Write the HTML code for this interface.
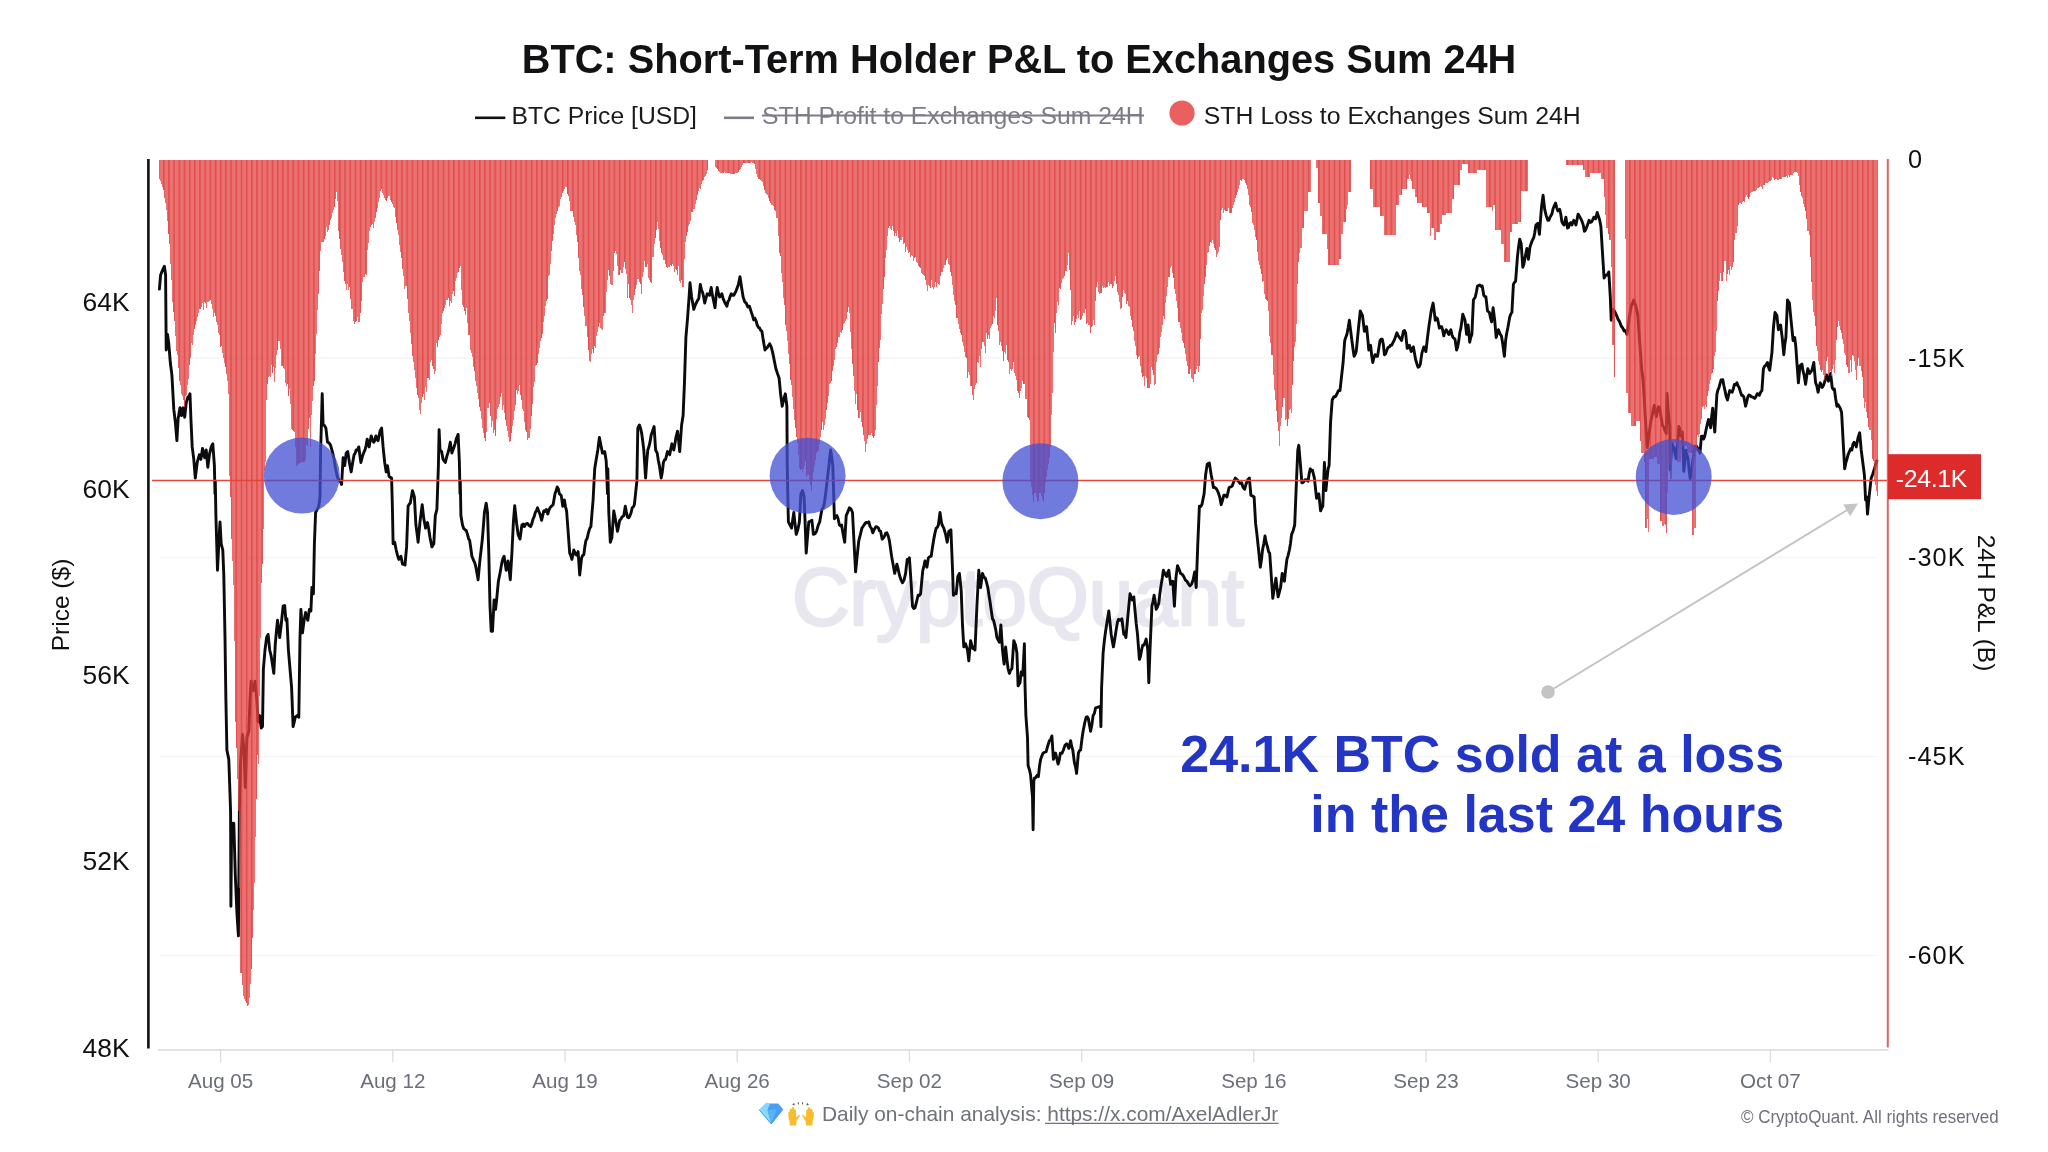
<!DOCTYPE html>
<html><head><meta charset="utf-8"><title>BTC: Short-Term Holder P&amp;L to Exchanges Sum 24H</title>
<style>html,body{margin:0;padding:0;background:#fff;width:2048px;height:1152px;overflow:hidden;font-family:"Liberation Sans",sans-serif}</style></head>
<body>
<svg width="2048" height="1152" viewBox="0 0 2048 1152" style="position:absolute;left:0;top:0;will-change:transform;font-family:'Liberation Sans',sans-serif">
<defs><pattern id="st" x="157.80" y="0" width="5.180" height="8" patternUnits="userSpaceOnUse"><rect x="0" y="0" width="5.180" height="8" fill="#e5403f" fill-opacity="0.74"/><rect x="0" y="0" width="1.5" height="8" fill="#d62f2f" fill-opacity="0.55"/></pattern></defs>
<line x1="160" x2="1878" y1="358" y2="358" stroke="#f5f5f5" stroke-width="1.3"/>
<line x1="160" x2="1878" y1="557.5" y2="557.5" stroke="#f5f5f5" stroke-width="1.3"/>
<line x1="160" x2="1878" y1="756.5" y2="756.5" stroke="#f5f5f5" stroke-width="1.3"/>
<line x1="160" x2="1878" y1="955.5" y2="955.5" stroke="#f5f5f5" stroke-width="1.3"/>
<text x="1018" y="625" text-anchor="middle" font-size="82" fill="#e8e7f0" stroke="#e8e7f0" stroke-width="2.6" stroke-linejoin="round" textLength="452" lengthAdjust="spacingAndGlyphs">CryptoQuant</text>
<line x1="158" x2="1888" y1="1050" y2="1050" stroke="#d9d9de" stroke-width="1.6"/>
<line x1="220.6" x2="220.6" y1="1050" y2="1062" stroke="#dcdce0" stroke-width="1.3"/>
<text x="220.6" y="1088" text-anchor="middle" font-size="20.6" fill="#6c6f78">Aug 05</text>
<line x1="392.8" x2="392.8" y1="1050" y2="1062" stroke="#dcdce0" stroke-width="1.3"/>
<text x="392.8" y="1088" text-anchor="middle" font-size="20.6" fill="#6c6f78">Aug 12</text>
<line x1="565.0" x2="565.0" y1="1050" y2="1062" stroke="#dcdce0" stroke-width="1.3"/>
<text x="565.0" y="1088" text-anchor="middle" font-size="20.6" fill="#6c6f78">Aug 19</text>
<line x1="737.2" x2="737.2" y1="1050" y2="1062" stroke="#dcdce0" stroke-width="1.3"/>
<text x="737.2" y="1088" text-anchor="middle" font-size="20.6" fill="#6c6f78">Aug 26</text>
<line x1="909.4" x2="909.4" y1="1050" y2="1062" stroke="#dcdce0" stroke-width="1.3"/>
<text x="909.4" y="1088" text-anchor="middle" font-size="20.6" fill="#6c6f78">Sep 02</text>
<line x1="1081.6" x2="1081.6" y1="1050" y2="1062" stroke="#dcdce0" stroke-width="1.3"/>
<text x="1081.6" y="1088" text-anchor="middle" font-size="20.6" fill="#6c6f78">Sep 09</text>
<line x1="1253.8" x2="1253.8" y1="1050" y2="1062" stroke="#dcdce0" stroke-width="1.3"/>
<text x="1253.8" y="1088" text-anchor="middle" font-size="20.6" fill="#6c6f78">Sep 16</text>
<line x1="1426.0" x2="1426.0" y1="1050" y2="1062" stroke="#dcdce0" stroke-width="1.3"/>
<text x="1426.0" y="1088" text-anchor="middle" font-size="20.6" fill="#6c6f78">Sep 23</text>
<line x1="1598.2" x2="1598.2" y1="1050" y2="1062" stroke="#dcdce0" stroke-width="1.3"/>
<text x="1598.2" y="1088" text-anchor="middle" font-size="20.6" fill="#6c6f78">Sep 30</text>
<line x1="1770.4" x2="1770.4" y1="1050" y2="1062" stroke="#dcdce0" stroke-width="1.3"/>
<text x="1770.4" y="1088" text-anchor="middle" font-size="20.6" fill="#6c6f78">Oct 07</text>
<path d="M159.4,289.1L160.6,275.0L162.5,270.3L164.4,266.2L165.6,275.0L166.2,350.0L167.5,334.4L168.8,343.8L170.3,362.5L171.9,375.0L173.8,409.4L175.3,421.9L176.9,440.6L178.1,418.8L180.0,407.8L181.6,415.6L183.1,407.8L184.7,417.2L186.2,403.1L187.8,396.9L188.9,397.1L190.0,393.8L190.9,418.8L192.2,446.9L193.8,459.4L195.3,478.1L197.2,462.5L198.3,458.3L199.4,454.7L200.9,459.4L202.5,448.4L203.6,452.6L204.7,457.8L206.2,450.0L207.8,467.2L209.4,454.7L211.2,446.9L212.8,443.8L214.4,465.6L215.0,493.8L215.3,481.2L215.9,515.6L217.5,570.3L218.8,543.8L220.0,521.9L221.2,543.8L222.8,550.0L223.8,575.0L225.0,637.5L225.9,700.0L226.9,750.0L228.8,759.4L230.0,793.8L230.6,812.5L230.9,906.2L231.6,828.1L232.7,823.1L233.8,823.4L235.3,875.0L236.9,912.5L238.4,935.9L239.4,810.0L240.6,762.5L242.5,734.4L244.1,750.0L245.3,787.5L246.9,737.5L248.8,731.2L250.0,700.0L251.2,681.2L253.1,690.6L255.0,681.2L256.6,696.9L258.1,721.9L259.7,715.6L261.2,728.1L262.5,726.6L263.4,668.8L265.0,650.0L266.6,637.5L268.1,634.4L269.7,650.0L271.2,656.2L272.5,664.8L273.8,673.4L275.3,643.8L276.4,631.7L277.5,620.3L278.6,628.4L279.7,637.5L281.2,625.0L283.1,606.2L284.7,605.6L285.9,620.3L286.9,618.8L288.4,650.0L290.0,668.8L291.6,687.5L293.1,726.6L294.2,722.2L295.3,717.2L297.2,715.6L298.8,717.2L300.0,637.5L300.9,609.4L302.5,632.8L304.1,620.3L305.6,612.5L306.7,616.8L307.8,620.3L309.4,609.4L310.9,610.9L311.9,587.5L313.4,593.8L314.4,543.8L315.6,512.5L317.2,509.4L318.8,506.2L320.0,496.9L320.6,450.0L321.2,431.2L322.2,393.8L323.1,425.0L324.5,425.5L325.9,428.1L327.5,442.2L329.1,442.9L330.6,445.3L332.2,451.1L333.8,457.8L335.3,467.1L336.9,475.0L338.1,478.7L339.4,481.2L340.5,481.5L341.6,484.4L343.1,457.8L344.7,465.6L346.2,453.1L347.8,451.6L349.4,462.5L351.2,471.9L352.7,462.2L354.1,454.7L355.2,453.1L356.2,450.0L357.5,450.0L358.8,446.9L359.8,454.7L360.9,462.5L362.5,456.2L363.8,452.4L365.0,450.0L366.1,445.6L367.2,439.1L369.1,446.9L370.2,441.1L371.2,435.9L372.5,439.8L373.8,442.2L374.8,440.6L375.9,435.9L377.0,438.9L378.1,440.6L380.0,431.2L381.6,428.1L383.1,446.9L384.7,462.5L386.2,471.9L387.5,465.6L389.1,476.6L390.3,477.4L391.6,478.1L392.2,500.0L392.5,512.5L393.1,543.8L394.7,542.2L396.2,550.0L397.5,555.4L398.8,559.4L399.8,557.2L400.9,556.2L402.5,564.1L403.8,564.4L405.0,565.0L406.6,546.9L408.1,506.2L409.2,504.1L410.3,503.1L411.4,496.7L412.5,490.6L414.4,496.9L415.9,525.0L417.0,533.1L418.1,542.2L420.0,521.9L421.1,513.1L422.2,504.7L423.8,518.8L425.6,528.1L427.5,522.5L428.8,529.6L430.0,537.5L431.9,546.9L433.8,543.8L435.3,515.6L436.9,509.4L438.4,465.6L439.1,429.7L440.0,450.0L441.6,451.6L443.1,459.4L444.2,461.0L445.3,462.5L446.9,456.2L448.8,450.0L450.3,442.2L451.9,453.1L453.0,450.1L454.1,446.9L455.2,443.3L456.2,439.1L458.1,434.4L459.4,462.5L460.0,493.8L460.3,481.2L460.9,515.6L462.5,525.0L463.8,528.7L465.0,529.7L466.2,530.5L467.5,534.4L468.6,538.8L469.7,540.6L470.8,548.2L471.9,556.2L473.8,560.9L474.8,562.8L475.9,567.2L477.0,573.3L478.1,579.7L480.0,559.4L481.1,550.1L482.2,540.6L483.3,527.6L484.4,512.5L486.2,503.1L487.5,512.5L488.8,553.1L490.0,606.2L491.2,631.2L492.5,631.2L494.1,600.0L495.6,609.4L496.9,596.9L498.4,581.2L500.0,573.4L501.9,562.5L503.0,558.3L504.1,556.2L505.2,563.5L506.2,570.3L508.1,560.9L509.2,570.4L510.3,579.7L511.9,553.1L513.4,521.9L514.7,505.6L516.6,523.4L518.1,534.4L520.0,539.1L521.9,525.0L523.1,524.1L524.4,526.6L525.9,523.8L527.5,523.4L529.1,525.6L530.6,526.6L531.9,523.4L533.1,518.8L534.2,516.7L535.3,512.5L536.4,510.7L537.5,507.8L538.8,511.3L540.0,514.1L541.6,520.3L542.7,515.7L543.8,510.9L545.0,511.4L546.2,509.4L547.8,514.1L548.9,510.1L550.0,507.8L551.6,506.1L553.1,504.7L555.0,493.8L556.1,490.7L557.2,486.9L558.3,488.7L559.4,493.8L561.2,495.3L562.8,506.2L564.4,500.0L565.5,506.8L566.6,510.9L568.1,531.2L569.7,553.1L570.8,555.5L571.9,559.4L573.8,550.0L574.8,552.3L575.9,554.7L577.0,555.3L578.1,551.6L579.7,575.0L581.6,557.8L582.7,555.4L583.8,554.7L584.8,547.1L585.9,540.6L587.2,538.3L588.4,532.8L589.7,528.6L590.9,526.6L592.0,512.8L593.1,500.0L594.7,468.8L596.2,459.4L597.8,450.0L599.4,437.5L600.9,445.3L602.5,453.1L603.6,452.9L604.7,451.6L606.2,460.9L607.5,493.8L607.8,468.8L608.8,512.5L610.3,542.2L611.9,537.5L613.8,510.9L615.6,520.3L617.5,531.2L618.6,526.2L619.7,520.3L620.8,519.3L621.9,517.2L623.8,515.6L625.3,506.2L626.4,512.1L627.5,517.2L628.8,517.8L630.0,515.6L631.1,512.7L632.2,507.8L633.3,506.8L634.4,504.7L636.2,487.5L636.9,481.2L637.8,428.1L639.4,425.0L640.5,428.2L641.6,432.8L642.7,440.7L643.8,450.0L645.6,478.1L646.7,462.2L647.8,450.0L648.9,446.8L650.0,442.2L651.2,434.9L652.5,431.2L654.1,426.6L655.6,450.0L657.2,453.1L658.3,460.3L659.4,465.6L661.2,478.1L662.3,472.2L663.4,462.5L664.5,459.9L665.6,459.4L667.5,451.6L668.6,452.4L669.7,454.7L670.8,448.7L671.9,443.8L673.8,450.0L674.8,444.6L675.9,437.5L677.5,431.2L678.6,440.5L679.7,451.6L681.6,425.0L683.1,415.6L684.4,384.4L685.9,337.5L687.5,318.8L689.1,296.9L690.0,282.8L691.6,296.9L692.7,303.0L693.8,309.4L695.0,305.7L696.2,303.1L697.5,300.5L698.8,298.4L700.3,284.4L701.4,289.6L702.5,292.2L703.6,296.7L704.7,303.1L705.9,298.5L707.2,293.8L708.3,294.8L709.4,295.3L711.2,287.5L712.3,294.6L713.4,300.0L715.0,307.8L716.1,296.4L717.2,287.5L718.4,293.3L719.7,296.9L720.8,295.7L721.9,293.8L723.1,298.5L724.4,301.6L725.6,304.0L726.9,306.2L728.0,301.5L729.1,300.0L730.2,296.2L731.2,293.8L732.5,295.3L733.8,295.3L735.0,293.0L736.2,290.6L737.3,287.5L738.4,284.4L740.0,276.6L741.6,287.5L743.1,296.9L744.7,301.8L746.2,303.1L747.8,306.9L749.4,306.2L750.9,310.9L752.5,315.6L753.7,319.9L754.8,318.3L756.0,320.6L757.2,325.0L758.4,327.4L759.5,327.9L760.7,330.3L761.9,331.2L763.4,341.1L765.0,350.0L766.2,348.3L767.3,347.6L768.5,345.5L769.7,343.8L771.2,346.9L772.8,353.1L774.4,361.2L775.9,368.8L777.5,373.6L779.1,378.1L780.6,394.0L782.2,406.2L783.8,398.9L785.3,393.8L786.9,406.2L787.2,462.5L787.5,481.2L788.4,521.9L790.0,525.0L791.6,528.1L792.7,519.9L793.8,512.5L795.0,523.3L796.2,534.4L797.8,529.8L799.4,521.9L800.9,493.8L802.5,490.6L804.1,496.9L805.2,525.4L806.2,553.1L807.5,537.0L808.8,521.9L810.3,521.2L811.9,520.3L813.4,534.4L815.0,533.6L816.6,531.2L818.1,525.6L819.7,521.9L820.8,515.4L821.9,509.4L823.1,507.8L824.4,503.1L825.9,491.5L827.5,478.1L829.1,464.0L830.6,450.0L831.7,457.3L832.8,465.6L834.4,518.8L835.6,517.0L836.9,515.6L838.1,518.8L839.4,525.0L840.5,525.9L841.6,525.0L843.1,533.9L844.7,542.2L846.2,515.6L847.8,511.9L849.4,507.8L850.9,508.9L852.5,512.5L854.1,543.8L855.6,571.9L857.2,555.5L858.8,540.6L860.3,534.9L861.9,528.1L863.4,526.0L865.0,523.4L866.2,522.4L867.5,522.9L868.8,521.9L870.1,526.5L871.5,528.5L872.8,532.8L874.4,529.2L875.9,526.6L877.1,526.9L878.3,527.8L879.5,530.9L880.6,531.2L882.2,539.1L883.4,538.0L884.5,536.3L885.7,533.2L886.9,532.8L888.1,535.7L889.4,540.6L890.5,548.4L891.6,556.2L893.1,564.4L894.7,573.4L895.8,568.9L896.9,564.1L898.1,568.8L899.4,575.0L900.9,579.6L902.5,582.8L904.1,579.9L905.6,573.4L907.2,559.4L908.3,560.1L909.4,557.8L911.2,584.4L912.5,606.2L913.8,608.6L915.0,607.8L916.6,601.6L918.1,595.3L919.4,595.5L920.6,593.8L921.7,581.7L922.8,570.3L923.9,566.5L925.0,560.9L926.9,567.2L928.4,557.8L929.8,556.7L931.2,556.2L932.5,547.2L933.8,539.1L935.0,532.9L936.2,528.1L937.3,527.3L938.4,525.0L940.0,512.5L941.6,523.4L942.7,526.1L943.8,528.1L945.6,534.4L947.2,542.2L948.8,531.2L949.8,530.7L950.9,529.7L952.5,568.8L953.4,595.3L954.8,593.4L956.2,593.8L957.8,576.6L959.4,573.4L961.2,590.6L962.5,625.0L963.8,646.9L965.6,643.8L967.5,650.0L968.8,660.9L970.6,640.6L971.7,644.7L972.8,648.4L973.9,647.8L975.0,650.0L976.9,606.2L978.8,570.3L980.6,587.5L982.5,573.4L983.9,577.3L985.3,578.1L986.6,582.7L987.8,587.5L988.9,594.7L990.0,601.6L991.2,610.1L992.5,618.8L993.6,620.3L994.7,625.0L995.8,629.9L996.9,637.5L998.1,639.8L999.4,642.2L1000.9,625.0L1002.5,650.0L1004.1,664.1L1005.6,646.9L1006.9,659.3L1008.1,668.8L1009.4,673.4L1010.6,670.0L1011.9,668.8L1013.8,640.6L1015.6,645.3L1016.9,653.1L1018.1,685.9L1020.0,682.8L1021.2,671.9L1022.8,675.0L1024.4,643.8L1025.0,684.4L1025.9,715.6L1027.5,737.5L1028.1,765.6L1029.4,769.6L1030.6,775.0L1031.9,790.6L1032.5,796.9L1033.1,829.7L1033.8,781.2L1034.4,778.1L1035.7,777.6L1037.1,775.4L1038.4,776.6L1039.5,766.3L1040.6,759.4L1041.9,755.8L1043.1,753.1L1044.7,752.3L1046.2,751.6L1047.8,745.7L1049.4,740.6L1050.6,739.8L1051.9,735.9L1053.4,759.4L1054.5,756.1L1055.6,753.1L1056.9,759.0L1058.1,764.1L1059.2,760.2L1060.3,753.1L1061.9,753.3L1063.4,750.0L1065.0,745.3L1066.6,743.8L1067.7,745.7L1068.8,748.4L1070.6,740.6L1071.7,746.5L1072.8,750.0L1074.4,762.5L1075.5,766.6L1076.6,773.4L1078.4,753.1L1079.5,750.6L1080.6,750.0L1081.9,739.3L1083.1,731.2L1084.7,722.9L1086.2,717.2L1087.3,716.8L1088.4,718.8L1089.5,725.2L1090.6,731.2L1091.9,724.7L1093.1,715.6L1094.4,713.2L1095.6,707.8L1097.2,707.4L1098.8,706.9L1100.3,706.2L1100.9,726.6L1101.6,687.5L1103.1,653.1L1104.4,640.2L1105.6,631.2L1107.2,621.0L1108.8,610.9L1110.0,622.3L1111.2,634.4L1112.3,641.0L1113.4,646.9L1115.0,637.5L1116.2,629.6L1117.5,621.9L1118.6,619.3L1119.7,620.3L1120.8,619.9L1121.9,618.8L1123.8,634.4L1124.8,633.9L1125.9,637.5L1127.5,620.3L1128.8,606.3L1130.0,593.8L1131.1,597.2L1132.2,600.0L1133.8,596.9L1135.0,610.5L1136.2,623.4L1137.5,634.4L1139.4,659.4L1140.5,656.3L1141.6,650.0L1142.7,645.3L1143.8,645.3L1145.0,642.5L1146.2,639.1L1147.8,650.0L1148.8,682.8L1150.0,650.0L1151.9,606.2L1153.0,601.5L1154.1,595.3L1155.2,602.0L1156.2,609.4L1157.5,606.9L1158.8,603.1L1160.0,592.6L1161.2,584.4L1162.3,578.0L1163.4,570.3L1165.0,574.0L1166.6,576.6L1167.7,572.5L1168.8,570.3L1170.6,584.4L1171.7,582.1L1172.8,581.2L1174.4,606.2L1175.9,578.1L1177.5,565.6L1179.1,569.3L1180.6,573.4L1182.2,574.3L1183.8,576.6L1185.3,580.0L1186.9,581.2L1188.4,583.8L1190.0,585.9L1191.6,584.1L1193.1,579.7L1194.7,571.9L1196.2,587.5L1197.8,543.8L1199.4,506.2L1200.6,506.6L1201.9,504.7L1203.0,499.3L1204.1,493.8L1205.6,475.0L1207.2,464.1L1208.3,463.4L1209.4,463.1L1211.2,475.0L1212.3,480.3L1213.4,487.5L1215.0,487.5L1216.6,489.1L1218.1,492.2L1219.7,496.9L1221.2,504.7L1222.5,500.3L1223.8,495.3L1225.3,495.2L1226.9,496.9L1228.0,492.3L1229.1,487.5L1230.6,486.9L1232.2,485.9L1233.8,481.5L1235.3,478.1L1236.9,479.5L1238.4,481.2L1240.0,483.5L1241.6,482.8L1243.1,487.5L1244.7,489.1L1246.2,483.6L1247.8,479.7L1249.4,478.1L1250.9,495.3L1252.5,495.9L1254.1,496.9L1255.6,523.4L1256.9,534.0L1258.1,545.3L1259.2,556.0L1260.3,567.2L1261.4,560.1L1262.5,550.0L1263.8,543.7L1265.0,535.9L1266.2,542.7L1267.5,546.9L1268.6,551.8L1269.7,553.1L1271.2,575.0L1272.8,598.4L1274.4,587.8L1275.9,578.1L1277.0,587.3L1278.1,596.9L1279.4,592.2L1280.6,587.5L1282.2,573.4L1283.3,578.4L1284.4,581.2L1285.6,570.2L1286.9,559.4L1288.1,555.3L1289.4,550.0L1290.5,543.4L1291.6,534.4L1293.1,530.9L1294.7,525.0L1296.2,487.5L1297.8,450.0L1298.8,445.3L1300.0,459.4L1301.9,482.8L1303.0,482.5L1304.1,481.2L1305.2,479.7L1306.2,479.7L1308.1,481.2L1309.2,473.4L1310.3,468.8L1311.4,470.7L1312.5,470.3L1314.4,478.1L1315.5,488.7L1316.6,498.4L1317.7,495.2L1318.8,493.8L1320.6,510.9L1321.7,508.1L1322.8,506.2L1324.4,462.5L1325.9,490.6L1327.0,479.2L1328.1,468.8L1329.1,465.6L1330.6,421.9L1332.2,400.0L1333.8,396.8L1335.3,396.9L1336.9,394.0L1338.4,390.6L1340.0,390.6L1341.6,375.8L1343.1,362.5L1344.7,340.6L1345.8,337.2L1346.9,334.4L1348.1,328.1L1349.4,320.3L1350.6,330.4L1351.9,340.6L1353.0,349.0L1354.1,356.2L1355.2,354.3L1356.2,351.6L1357.5,338.3L1358.8,325.0L1360.3,310.9L1361.4,313.3L1362.5,315.6L1364.4,331.2L1365.5,330.8L1366.6,326.6L1367.7,338.1L1368.8,350.0L1370.6,345.3L1371.7,355.5L1372.8,362.5L1373.9,357.7L1375.0,354.7L1376.2,356.2L1377.5,356.2L1378.8,348.6L1380.0,340.6L1381.1,339.1L1382.2,339.1L1383.3,344.2L1384.4,354.7L1385.6,353.9L1386.9,350.0L1388.1,347.3L1389.4,346.9L1390.5,345.1L1391.6,345.3L1393.1,342.3L1394.7,339.1L1395.8,336.0L1396.9,332.8L1398.1,335.4L1399.4,337.5L1400.5,338.8L1401.6,340.6L1403.4,331.2L1404.5,330.5L1405.6,332.8L1407.2,348.4L1408.3,347.7L1409.4,345.3L1411.2,351.6L1412.3,348.3L1413.4,346.9L1414.5,353.3L1415.6,359.4L1416.9,363.9L1418.1,367.2L1419.2,366.8L1420.3,364.1L1421.9,353.1L1423.8,346.9L1424.8,349.0L1425.9,351.6L1427.5,337.5L1429.1,325.0L1430.2,317.7L1431.2,310.9L1433.1,303.1L1434.2,311.5L1435.3,320.3L1436.4,317.7L1437.5,318.8L1439.4,328.1L1440.5,326.6L1441.6,326.6L1442.7,330.2L1443.8,335.9L1445.0,331.7L1446.2,329.7L1447.5,332.2L1448.8,334.4L1449.8,331.7L1450.9,329.7L1452.0,335.2L1453.1,337.5L1455.0,339.1L1456.6,350.0L1457.7,346.8L1458.8,340.6L1459.8,332.5L1460.9,328.1L1462.8,314.1L1463.9,317.3L1465.0,320.3L1466.6,334.4L1468.1,325.0L1469.7,342.2L1470.8,337.3L1471.9,334.4L1473.4,300.0L1475.3,296.9L1476.4,292.0L1477.5,285.9L1478.6,285.6L1479.7,285.0L1480.9,286.4L1482.2,285.9L1483.8,295.3L1484.8,296.4L1485.9,296.9L1487.5,310.9L1489.4,312.5L1490.5,317.9L1491.6,321.9L1493.1,307.8L1494.7,320.3L1496.2,337.5L1497.3,333.3L1498.4,329.7L1500.3,334.4L1501.4,335.8L1502.5,342.2L1504.4,356.2L1505.6,340.6L1506.7,333.2L1507.8,328.1L1509.7,317.2L1510.8,314.0L1511.9,312.5L1513.4,284.4L1514.5,282.3L1515.6,281.2L1517.5,256.2L1518.6,246.6L1519.7,239.1L1521.2,243.8L1522.8,267.2L1523.9,264.1L1525.0,257.8L1526.9,248.4L1528.4,259.4L1530.0,246.9L1531.6,242.2L1532.7,239.7L1533.8,237.5L1534.8,232.5L1535.9,225.0L1537.8,223.4L1539.4,234.4L1540.5,220.0L1541.6,206.2L1543.1,195.3L1544.7,209.4L1546.2,215.6L1547.8,220.3L1548.9,220.4L1550.0,217.2L1551.9,214.1L1553.0,209.0L1554.1,206.2L1555.6,203.1L1556.7,207.6L1557.8,210.9L1559.7,209.4L1560.8,214.3L1561.9,221.9L1563.0,223.9L1564.1,225.0L1565.9,217.2L1567.5,228.1L1568.6,227.4L1569.7,223.4L1570.8,222.6L1571.9,225.0L1573.8,220.3L1574.8,221.8L1575.9,225.0L1577.0,219.8L1578.1,214.1L1580.0,217.2L1581.1,219.3L1582.2,221.9L1583.3,225.2L1584.4,231.2L1585.6,230.1L1586.9,226.6L1588.0,223.5L1589.1,220.3L1590.3,222.4L1591.6,221.9L1592.7,219.8L1593.8,217.2L1595.6,218.8L1597.2,212.5L1598.8,217.2L1599.8,220.7L1600.9,226.6L1602.5,253.1L1604.1,278.1L1605.2,276.1L1606.2,275.0L1607.5,274.8L1608.8,271.9L1610.3,296.9L1611.2,320.3L1612.3,313.5L1613.4,309.4L1615.0,312.0L1616.6,315.6L1618.1,319.4L1619.7,321.9L1621.2,326.0L1622.8,328.1L1624.2,331.0L1625.5,330.8L1626.9,334.4L1628.0,328.6L1629.1,318.8L1630.2,312.3L1631.2,306.2L1632.5,303.1L1633.8,300.0L1634.8,303.1L1635.9,306.2L1637.8,315.6L1639.4,337.5L1640.5,352.9L1641.6,368.8L1643.1,380.0L1644.2,396.9L1645.2,415.2L1646.3,433.4L1647.3,447.5L1648.3,439.1L1650.1,426.4L1651.1,419.8L1652.2,415.2L1653.2,409.9L1654.3,405.3L1655.4,412.3L1656.4,416.6L1657.5,410.3L1658.5,406.7L1659.6,407.8L1660.6,413.8L1662.3,425.0L1664.1,427.8L1665.2,431.2L1666.3,433.4L1667.0,393.4L1668.4,413.8L1669.8,426.4L1670.2,470.0L1671.9,443.3L1672.9,445.7L1674.0,447.5L1675.0,453.9L1676.1,458.8L1677.5,444.3L1678.9,426.4L1680.0,430.6L1681.0,436.3L1682.4,432.0L1683.8,471.4L1684.9,461.0L1685.9,450.3L1687.0,455.0L1688.1,458.8L1689.1,469.8L1690.2,478.5L1691.6,469.6L1693.0,458.8L1694.0,451.6L1695.1,446.1L1696.5,446.1L1697.9,448.9L1699.0,450.8L1700.0,453.1L1701.4,436.3L1702.5,436.1L1703.5,439.1L1704.6,436.7L1705.6,432.0L1707.0,425.3L1708.5,419.4L1709.5,423.2L1710.6,427.8L1711.6,417.1L1712.7,408.1L1713.7,421.6L1714.8,432.0L1715.8,413.3L1716.9,394.1L1717.9,390.1L1719.0,387.6L1720.1,383.4L1721.1,380.0L1722.8,379.7L1723.9,385.7L1725.0,390.6L1726.2,396.6L1727.5,400.0L1728.6,395.0L1729.7,390.6L1730.9,391.9L1732.2,392.2L1733.3,388.8L1734.4,384.4L1735.6,384.7L1736.9,382.8L1738.0,385.8L1739.1,387.5L1740.3,391.4L1741.6,395.3L1742.7,395.5L1743.8,396.9L1745.6,406.2L1746.7,401.9L1747.8,396.9L1748.9,395.0L1750.0,395.3L1751.2,396.7L1752.5,396.9L1753.6,397.7L1754.7,398.4L1755.9,396.6L1757.2,393.8L1758.3,394.0L1759.4,395.3L1760.6,392.2L1761.9,390.6L1763.4,368.8L1764.5,366.3L1765.6,365.6L1767.5,362.5L1768.6,367.5L1769.7,370.3L1770.8,361.5L1771.9,353.1L1773.4,328.1L1775.0,312.5L1776.9,315.6L1778.4,329.7L1779.5,327.1L1780.6,325.0L1782.2,337.5L1783.8,354.7L1784.8,344.3L1785.9,337.5L1787.5,300.0L1789.4,303.1L1790.9,318.8L1792.0,329.6L1793.1,340.6L1794.7,337.5L1795.8,346.5L1796.9,362.5L1798.4,382.8L1800.0,365.6L1801.9,364.1L1803.0,370.9L1804.1,375.0L1805.6,384.4L1806.7,376.3L1807.8,368.8L1809.7,373.4L1810.8,371.9L1811.9,370.3L1813.8,362.5L1815.6,382.8L1816.9,386.1L1818.1,392.2L1819.2,386.4L1820.3,382.8L1822.2,387.5L1823.3,385.8L1824.4,382.8L1825.5,378.7L1826.6,375.0L1828.4,381.2L1829.5,377.8L1830.6,373.4L1832.2,387.5L1833.3,389.6L1834.4,389.1L1835.6,398.3L1836.9,406.2L1838.0,404.4L1839.1,406.2L1840.3,408.4L1841.6,412.5L1843.1,440.6L1844.7,468.8L1845.8,462.9L1846.9,459.4L1848.1,454.6L1849.4,451.6L1850.6,448.7L1851.9,450.0L1853.0,444.0L1854.1,442.2L1855.2,443.8L1856.2,446.9L1858.1,437.5L1859.7,432.8L1861.2,450.0L1862.8,462.5L1864.4,475.0L1865.6,500.0L1866.6,496.9L1867.5,514.1L1869.1,496.9L1870.2,486.9L1871.2,478.1L1872.8,474.0L1874.4,468.8L1875.6,464.5L1876.9,460.9" fill="none" stroke="#0b0b0d" stroke-width="2.9" stroke-linejoin="round" stroke-linecap="round"/>
<path d="M158.50,160.0V179.3H159.52V181.4H160.55V184.0H161.57V187.0H162.60V190.3H163.62V197.6H164.65V202.7H165.67V209.9H166.70V221.0H167.72V233.9H168.75V243.9H169.77V263.5H170.80V280.0H171.82V301.8H172.85V312.1H173.87V321.0H174.90V336.1H175.92V350.7H176.95V355.3H177.97V368.0H179.00V381.3H180.02V384.7H181.05V393.5H182.07V396.1H183.10V399.6H184.12V406.8H185.15V395.6H186.17V394.7H187.20V385.0H188.22V378.5H189.25V365.4H190.27V357.6H191.30V343.3H192.32V345.4H193.34V334.7H194.37V329.2H195.39V325.1H196.42V320.7H197.44V316.8H198.47V313.2H199.49V308.7H200.52V307.3H201.54V303.4H202.57V310.1H203.59V301.5H204.62V303.0H205.64V307.7H206.67V302.3H207.69V301.8H208.72V301.2H209.74V300.0H210.77V303.6H211.79V309.3H212.82V317.4H213.84V312.5H214.87V316.4H215.89V321.7H216.92V324.5H217.94V332.6H218.97V334.8H219.99V346.5H221.02V346.2H222.04V352.8H223.07V357.5H224.09V362.9H225.12V367.2H226.14V373.8H227.17V380.9H228.19V394.1H229.21V476.2H230.24V497.0H231.26V539.3H232.29V561.1H233.31V584.8H234.34V640.8H235.36V721.9H236.39V747.5H237.41V778.7H238.44V810.8H239.46V887.6H240.49V973.0H241.51V984.5H242.54V996.0H243.56V998.7H244.59V1000.6H245.61V1003.0H246.64V1005.9H247.66V1005.3H248.69V998.1H249.71V984.1H250.74V968.8H251.76V938.0H252.79V910.0H253.81V882.6H254.84V837.4H255.86V798.8H256.89V755.1H257.91V764.0H258.94V696.4H259.96V638.0H260.99V583.0H262.01V564.2H263.03V528.8H264.06V471.4H265.08V461.9H266.11V399.6H267.13V384.4H268.16V376.6H269.18V375.5H270.21V377.3H271.23V365.1H272.26V373.3H273.28V367.4H274.31V382.0H275.33V367.8H276.36V355.2H277.38V350.1H278.41V341.0H279.43V340.8H280.46V348.5H281.48V366.2H282.51V368.4H283.53V368.6H284.56V382.8H285.58V386.4H286.61V383.6H287.63V395.5H288.66V388.6H289.68V404.0H290.71V428.9H291.73V430.1H292.76V431.2H293.78V432.2H294.81V447.2H295.83V465.5H296.85V464.8H297.88V464.1H298.90V463.3H299.93V462.6H300.95V461.8H301.98V461.8H303.00V462.0H304.03V462.3H305.05V460.2H306.08V445.1H307.10V445.7H308.13V429.1H309.15V417.5H310.18V446.7H311.20V415.1H312.23V401.3H313.25V385.7H314.28V380.6H315.30V354.1H316.33V334.3H317.35V309.8H318.38V294.3H319.40V270.5H320.43V250.5H321.45V242.4H322.48V242.4H323.50V239.4H324.53V235.8H325.55V227.3H326.58V231.8H327.60V229.5H328.63V225.0H329.65V219.9H330.67V217.7H331.70V213.1H332.72V210.1H333.75V207.0H334.77V199.3H335.80V191.5H336.82V200.6H337.85V231.4H338.87V239.1H339.90V248.7H340.92V254.7H341.95V262.0H342.97V272.2H344.00V280.6H345.02V284.2H346.05V289.9H347.07V284.2H348.10V290.4H349.12V287.2H350.15V299.2H351.17V309.0H352.20V308.8H353.22V320.7H354.25V324.1H355.27V321.5H356.30V321.4H357.32V316.9H358.35V321.6H359.37V321.9H360.40V313.3H361.42V301.4H362.45V282.0H363.47V277.4H364.50V273.9H365.52V274.6H366.54V249.6H367.57V243.4H368.59V230.9H369.62V226.9H370.64V225.2H371.67V224.3H372.69V228.3H373.72V222.1H374.74V217.9H375.77V212.3H376.79V207.8H377.82V202.2H378.84V198.0H379.87V191.4H380.89V188.5H381.92V193.3H382.94V195.3H383.97V198.2H384.99V200.2H386.02V200.7H387.04V197.8H388.07V196.1H389.09V196.4H390.12V199.8H391.14V202.0H392.17V203.5H393.19V207.0H394.22V208.4H395.24V217.0H396.27V222.9H397.29V230.0H398.32V235.1H399.34V245.3H400.36V252.4H401.39V258.2H402.41V268.8H403.44V275.9H404.46V288.9H405.49V285.8H406.51V299.2H407.54V312.6H408.56V321.0H409.59V332.7H410.61V344.1H411.64V355.5H412.66V362.1H413.69V370.0H414.71V378.1H415.74V387.7H416.76V395.1H417.79V397.7H418.81V409.8H419.84V413.6H420.86V403.4H421.89V396.9H422.91V394.4H423.94V399.9H424.96V386.6H425.99V392.0H427.01V378.4H428.04V377.9H429.06V380.1H430.09V362.2H431.11V360.0H432.14V365.5H433.16V369.1H434.18V374.2H435.21V371.2H436.23V343.4H437.26V346.9H438.28V340.1H439.31V336.6H440.33V335.2H441.36V323.7H442.38V313.2H443.41V311.3H444.43V308.1H445.46V305.2H446.48V300.0H447.51V298.4H448.53V306.1H449.56V301.3H450.58V302.6H451.61V293.8H452.63V291.2H453.66V295.8H454.68V281.4H455.71V277.7H456.73V272.9H457.76V271.8H458.78V267.7H459.81V266.2H460.83V289.9H461.86V304.8H462.88V307.3H463.91V310.5H464.93V314.5H465.96V307.7H466.98V322.7H468.01V334.5H469.03V335.1H470.05V350.4H471.08V352.8H472.10V357.2H473.13V366.5H474.15V371.0H475.18V381.2H476.20V386.2H477.23V393.4H478.25V398.7H479.28V407.0H480.30V411.3H481.33V419.3H482.35V428.3H483.38V433.2H484.40V438.0H485.43V440.9H486.45V431.5H487.48V408.4H488.50V403.3H489.53V416.1H490.55V426.6H491.58V421.3H492.60V432.5H493.63V429.7H494.65V436.2H495.68V418.5H496.70V408.7H497.73V407.0H498.75V403.9H499.78V396.5H500.80V392.8H501.83V409.7H502.85V405.0H503.87V412.7H504.90V419.9H505.92V425.7H506.95V431.3H507.97V436.8H509.00V441.8H510.02V441.1H511.05V433.0H512.07V425.9H513.10V420.2H514.12V411.2H515.15V405.1H516.17V390.2H517.20V393.6H518.22V391.2H519.25V385.3H520.27V394.5H521.30V400.0H522.32V408.5H523.35V411.0H524.37V422.1H525.40V430.2H526.42V432.2H527.45V440.0H528.47V437.6H529.50V428.8H530.52V416.4H531.55V403.8H532.57V387.4H533.60V381.9H534.62V366.3H535.65V365.4H536.67V362.7H537.69V353.8H538.72V348.2H539.74V341.4H540.77V337.7H541.79V334.0H542.82V322.4H543.84V316.2H544.87V306.0H545.89V301.4H546.92V299.1H547.94V275.6H548.97V275.4H549.99V264.1H551.02V250.9H552.04V240.8H553.07V233.9H554.09V225.0H555.12V218.0H556.14V214.2H557.17V210.8H558.19V206.8H559.22V205.7H560.24V199.2H561.27V197.1H562.29V193.2H563.32V191.0H564.34V189.4H565.37V186.5H566.39V186.7H567.42V193.7H568.44V195.9H569.47V200.6H570.49V211.0H571.51V211.4H572.54V217.1H573.56V222.3H574.59V224.7H575.61V234.5H576.64V242.3H577.66V257.9H578.69V270.5H579.71V274.8H580.74V288.6H581.76V294.7H582.79V306.6H583.81V316.0H584.84V326.3H585.86V326.1H586.89V337.3H587.91V350.3H588.94V360.5H589.96V362.2H590.99V354.3H592.01V349.4H593.04V352.5H594.06V345.9H595.09V347.5H596.11V336.2H597.14V331.5H598.16V327.0H599.19V322.9H600.21V327.7H601.24V328.6H602.26V329.9H603.29V315.7H604.31V312.8H605.34V313.2H606.36V292.2H607.38V279.8H608.41V269.7H609.43V275.6H610.46V283.8H611.48V285.0H612.51V271.1H613.53V252.7H614.56V251.1H615.58V253.9H616.61V265.6H617.63V274.6H618.66V275.1H619.68V270.4H620.71V273.2H621.73V272.6H622.76V266.7H623.78V262.0H624.81V269.2H625.83V274.0H626.86V297.8H627.88V284.1H628.91V298.0H629.93V299.5H630.96V305.3H631.98V313.3H633.01V300.0H634.03V295.3H635.06V289.1H636.08V285.2H637.11V278.6H638.13V278.6H639.16V281.8H640.18V283.7H641.20V293.9H642.23V276.7H643.25V271.5H644.28V261.0H645.30V267.1H646.33V266.7H647.35V263.8H648.38V277.8H649.40V280.0H650.43V282.0H651.45V282.7H652.48V256.7H653.50V244.4H654.53V237.8H655.55V230.0H656.58V221.5H657.60V229.0H658.63V241.2H659.65V247.8H660.68V252.8H661.70V255.0H662.73V260.0H663.75V260.1H664.78V264.4H665.80V267.1H666.83V268.4H667.85V266.5H668.88V266.8H669.90V265.1H670.93V265.6H671.95V264.3H672.98V265.5H674.00V272.1H675.02V268.8H676.05V270.0H677.07V274.5H678.10V266.1H679.12V281.2H680.15V282.6H681.17V280.4H682.20V287.0H683.22V287.2H684.25V259.4H685.27V242.1H686.30V235.6H687.32V232.2H688.35V225.7H689.37V224.1H690.40V221.4H691.42V212.2H692.45V212.2H693.47V209.3H694.50V203.8H695.52V200.1H696.55V194.6H697.57V190.5H698.60V187.9H699.62V189.0H700.65V184.2H701.67V180.9H702.70V180.4H703.72V177.4H704.75V175.8H705.77V173.6H706.80V170.3H707.82V160.0ZM714.99,160.0V166.7H716.02V167.8H717.04V169.4H718.07V170.7H719.09V172.1H720.12V172.8H721.14V172.7H722.17V173.3H723.19V173.3H724.22V172.3H725.24V173.1H726.27V173.2H727.29V173.3H728.32V173.4H729.34V172.9H730.37V173.8H731.39V174.3H732.42V173.8H733.44V174.0H734.47V173.6H735.49V173.2H736.52V172.9H737.54V172.1H738.57V169.8H739.59V168.5H740.62V166.6H741.64V164.5H742.67V162.5H743.69V162.6H744.71V162.5H745.74V162.5H746.76V162.5H747.79V162.5H748.81V162.6H749.84V162.5H750.86V162.4H751.89V162.5H752.91V162.5H753.94V164.3H754.96V168.9H755.99V173.5H757.01V176.6H758.04V179.3H759.06V179.2H760.09V179.8H761.11V181.0H762.14V181.6H763.16V186.3H764.19V189.9H765.21V193.2H766.24V193.8H767.26V195.3H768.29V198.1H769.31V200.5H770.34V202.8H771.36V204.5H772.39V205.3H773.41V206.3H774.44V210.3H775.46V210.5H776.49V217.6H777.51V235.5H778.53V253.3H779.56V256.0H780.58V273.0H781.61V281.9H782.63V298.0H783.66V304.9H784.68V324.9H785.71V331.1H786.73V341.1H787.76V354.0H788.78V363.6H789.81V380.3H790.83V384.9H791.86V397.0H792.88V408.9H793.91V419.6H794.93V427.9H795.96V437.3H796.98V442.6H798.01V455.4H799.03V467.5H800.06V469.8H801.08V469.3H802.11V472.1H803.13V469.4H804.16V466.0H805.18V460.9H806.21V476.6H807.23V475.3H808.26V475.2H809.28V480.7H810.31V485.3H811.33V490.9H812.35V480.3H813.38V472.2H814.40V466.3H815.43V460.4H816.45V453.4H817.48V451.4H818.50V443.6H819.53V437.1H820.55V429.7H821.58V422.4H822.60V430.4H823.63V424.6H824.65V419.0H825.68V409.7H826.70V403.3H827.73V396.0H828.75V384.3H829.78V382.5H830.80V380.5H831.83V370.9H832.85V365.7H833.88V360.3H834.90V349.0H835.93V346.8H836.95V343.1H837.98V336.9H839.00V337.4H840.03V332.4H841.05V332.7H842.08V330.3H843.10V323.6H844.13V322.9H845.15V320.6H846.18V318.6H847.20V312.0H848.22V306.9H849.25V312.5H850.27V332.4H851.30V349.4H852.32V364.1H853.35V375.6H854.37V390.9H855.40V404.4H856.42V394.3H857.45V410.1H858.47V417.6H859.50V412.4H860.52V422.4H861.55V427.4H862.57V434.8H863.60V441.3H864.62V451.7H865.65V443.9H866.67V439.4H867.70V434.8H868.72V434.8H869.75V435.2H870.77V433.0H871.80V436.1H872.82V438.3H873.85V435.6H874.87V429.8H875.90V405.2H876.92V385.7H877.95V362.0H878.97V348.2H880.00V340.3H881.02V314.2H882.04V303.8H883.07V289.0H884.09V277.3H885.12V258.1H886.14V250.1H887.17V235.7H888.19V227.7H889.22V225.5H890.24V229.0H891.27V229.6H892.29V226.4H893.32V230.5H894.34V235.8H895.37V232.9H896.39V235.5H897.42V230.6H898.44V238.1H899.47V241.8H900.49V240.3H901.52V236.9H902.54V244.1H903.57V243.1H904.59V251.5H905.62V246.9H906.64V249.5H907.67V253.2H908.69V252.2H909.72V257.4H910.74V254.8H911.77V255.8H912.79V260.8H913.82V257.6H914.84V257.0H915.86V261.9H916.89V263.4H917.91V265.5H918.94V267.1H919.96V267.7H920.99V273.0H922.01V273.6H923.04V275.4H924.06V276.0H925.09V279.9H926.11V284.6H927.14V290.6H928.16V285.0H929.19V286.0H930.21V288.2H931.24V280.0H932.26V286.9H933.29V288.5H934.31V287.3H935.34V281.9H936.36V286.6H937.39V283.4H938.41V283.6H939.44V284.7H940.46V275.9H941.49V271.8H942.51V268.0H943.54V264.5H944.56V264.6H945.59V259.5H946.61V258.3H947.64V263.7H948.66V265.0H949.68V272.4H950.71V276.0H951.73V284.7H952.76V295.1H953.78V300.5H954.81V305.1H955.83V318.3H956.86V318.0H957.88V324.1H958.91V328.5H959.93V332.5H960.96V334.9H961.98V341.6H963.01V346.1H964.03V352.1H965.06V357.0H966.08V358.0H967.11V377.8H968.13V372.4H969.16V375.4H970.18V385.5H971.21V385.8H972.23V394.6H973.26V400.1H974.28V389.3H975.31V385.3H976.33V382.9H977.36V362.3H978.38V363.2H979.41V356.3H980.43V366.9H981.46V349.2H982.48V342.0H983.51V345.7H984.53V353.0H985.55V333.1H986.58V339.2H987.60V334.8H988.63V338.7H989.65V327.6H990.68V326.2H991.70V323.7H992.73V315.6H993.75V317.7H994.78V311.3H995.80V297.6H996.83V325.3H997.85V331.3H998.88V345.0H999.90V342.1H1000.93V346.2H1001.95V350.5H1002.98V361.1H1004.00V351.9H1005.03V353.9H1006.05V344.9H1007.08V359.7H1008.10V362.2H1009.13V374.0H1010.15V369.0H1011.18V370.9H1012.20V368.8H1013.23V361.7H1014.25V372.6H1015.28V375.6H1016.30V379.6H1017.33V391.2H1018.35V392.7H1019.37V397.5H1020.40V390.6H1021.42V387.5H1022.45V380.5H1023.47V384.0H1024.50V398.9H1025.52V398.7H1026.55V416.9H1027.57V417.8H1028.60V420.0H1029.62V482.1H1030.65V486.6H1031.67V495.4H1032.70V502.0H1033.72V492.6H1034.75V492.9H1035.77V496.5H1036.80V501.6H1037.82V500.9H1038.85V492.6H1039.87V493.4H1040.90V495.6H1041.92V499.6H1042.95V502.1H1043.97V492.8H1045.00V483.3H1046.02V477.1H1047.05V470.2H1048.07V463.6H1049.10V458.1H1050.12V446.8H1051.15V414.7H1052.17V392.9H1053.19V352.4H1054.22V323.0H1055.24V332.9H1056.27V312.7H1057.29V301.7H1058.32V304.5H1059.34V288.1H1060.37V288.6H1061.39V282.5H1062.42V278.9H1063.44V277.5H1064.47V275.5H1065.49V271.0H1066.52V264.5H1067.54V252.5H1068.57V270.4H1069.59V290.4H1070.62V324.8H1071.64V320.6H1072.67V315.6H1073.69V324.8H1074.72V322.4H1075.74V319.2H1076.77V315.2H1077.79V317.6H1078.82V310.8H1079.84V319.5H1080.87V318.8H1081.89V316.4H1082.92V313.3H1083.94V313.4H1084.97V309.1H1085.99V323.7H1087.02V323.2H1088.04V325.2H1089.06V325.2H1090.09V333.1H1091.11V326.6H1092.14V326.1H1093.16V319.9H1094.19V324.8H1095.21V300.8H1096.24V286.6H1097.26V281.7H1098.29V292.0H1099.31V294.0H1100.34V292.7H1101.36V293.4H1102.39V285.8H1103.41V288.2H1104.44V286.9H1105.46V288.0H1106.49V286.9H1107.51V282.4H1108.54V286.1H1109.56V283.9H1110.59V284.0H1111.61V287.6H1112.64V285.9H1113.66V281.4H1114.69V275.7H1115.71V283.7H1116.74V291.7H1117.76V294.6H1118.79V301.9H1119.81V308.9H1120.84V308.0H1121.86V297.4H1122.88V289.8H1123.91V293.3H1124.93V294.3H1125.96V303.5H1126.98V301.3H1128.01V305.7H1129.03V307.2H1130.06V315.9H1131.08V319.9H1132.11V326.6H1133.13V330.7H1134.16V340.7H1135.18V345.7H1136.21V355.1H1137.23V358.9H1138.26V357.3H1139.28V355.5H1140.31V365.6H1141.33V372.7H1142.36V376.7H1143.38V376.1H1144.41V386.4H1145.43V375.5H1146.46V378.0H1147.48V387.7H1148.51V387.5H1149.53V384.0H1150.56V366.5H1151.58V369.5H1152.61V375.4H1153.63V385.3H1154.66V383.7H1155.68V361.5H1156.70V355.4H1157.73V354.2H1158.75V347.9H1159.78V337.2H1160.80V332.1H1161.83V324.8H1162.85V315.5H1163.88V319.0H1164.90V303.3H1165.93V295.8H1166.95V286.8H1167.98V276.5H1169.00V277.2H1170.03V268.1H1171.05V265.7H1172.08V273.1H1173.10V278.0H1174.13V289.1H1175.15V294.4H1176.18V300.6H1177.20V308.1H1178.23V321.6H1179.25V322.2H1180.28V328.2H1181.30V332.9H1182.33V340.6H1183.35V343.2H1184.38V348.0H1185.40V354.1H1186.43V360.8H1187.45V365.7H1188.48V374.4H1189.50V368.8H1190.52V378.4H1191.55V379.1H1192.57V382.1H1193.60V373.9H1194.62V373.6H1195.65V368.5H1196.67V366.3H1197.70V371.6H1198.72V366.4H1199.75V338.6H1200.77V313.4H1201.80V309.9H1202.82V295.5H1203.85V284.1H1204.87V276.7H1205.90V265.2H1206.92V253.2H1207.95V252.1H1208.97V245.8H1210.00V242.4H1211.02V242.8H1212.05V240.2H1213.07V243.8H1214.10V248.0H1215.12V250.2H1216.15V256.8H1217.17V254.4H1218.20V251.5H1219.22V246.5H1220.25V219.5H1221.27V209.7H1222.30V208.2H1223.32V213.0H1224.35V210.2H1225.37V210.9H1226.39V211.3H1227.42V211.0H1228.44V208.2H1229.47V212.8H1230.49V212.9H1231.52V208.1H1232.54V205.4H1233.57V201.6H1234.59V198.3H1235.62V195.0H1236.64V192.0H1237.67V188.6H1238.69V184.5H1239.72V180.1H1240.74V180.5H1241.77V178.6H1242.79V179.4H1243.82V180.4H1244.84V183.3H1245.87V185.1H1246.89V189.2H1247.92V195.2H1248.94V205.4H1249.97V207.4H1250.99V211.6H1252.02V223.1H1253.04V225.1H1254.07V229.6H1255.09V237.3H1256.12V240.1H1257.14V251.6H1258.17V260.5H1259.19V265.2H1260.21V268.7H1261.24V273.8H1262.26V281.8H1263.29V281.3H1264.31V294.0H1265.34V298.6H1266.36V299.6H1267.39V300.8H1268.41V310.7H1269.44V336.0H1270.46V342.6H1271.49V355.1H1272.51V375.2H1273.54V389.8H1274.56V399.6H1275.59V411.4H1276.61V422.2H1277.64V431.1H1278.66V446.3H1279.69V426.4H1280.71V417.8H1281.74V407.0H1282.76V398.3H1283.79V397.9H1284.81V420.1H1285.84V418.5H1286.86V425.9H1287.89V418.5H1288.91V409.6H1289.94V409.1H1290.96V412.9H1291.99V385.0H1293.01V360.9H1294.03V347.1H1295.06V341.6H1296.08V324.0H1297.11V283.6H1298.13V261.9H1299.16V253.2H1300.18V247.7H1301.21V247.7H1302.23V228.1H1303.26V228.1H1304.28V210.5H1305.31V210.5H1306.33V210.5H1307.36V210.5H1308.38V192.0H1309.41V192.0H1310.43V192.0H1311.46V160.0ZM1315.56,160.0V167.6H1316.58V167.6H1317.61V202.7H1318.63V202.7H1319.66V216.4H1320.68V216.4H1321.71V234.0H1322.73V234.0H1323.76V234.0H1324.78V234.0H1325.81V234.0H1326.83V248.7H1327.86V265.2H1328.88V265.2H1329.90V265.2H1330.93V265.2H1331.95V265.2H1332.98V265.2H1334.00V265.2H1335.03V265.2H1336.05V265.2H1337.08V265.2H1338.10V265.2H1339.13V259.4H1340.15V259.4H1341.18V234.0H1342.20V234.0H1343.23V222.3H1344.25V222.3H1345.28V222.3H1346.30V208.6H1347.33V205.3H1348.35V192.0H1349.38V192.0H1350.40V192.0H1351.43V160.0ZM1369.87,160.0V189.1H1370.90V189.1H1371.92V189.1H1372.95V206.6H1373.97V206.6H1375.00V206.6H1376.02V206.6H1377.05V206.6H1378.07V206.6H1379.10V206.6H1380.12V216.4H1381.15V216.4H1382.17V216.4H1383.20V216.4H1384.22V235.0H1385.25V235.0H1386.27V235.0H1387.30V235.0H1388.32V235.0H1389.35V235.0H1390.37V235.0H1391.40V235.0H1392.42V235.0H1393.45V235.0H1394.47V235.0H1395.50V204.7H1396.52V204.7H1397.54V204.7H1398.57V194.9H1399.59V194.9H1400.62V194.9H1401.64V189.1H1402.67V189.1H1403.69V189.1H1404.72V189.1H1405.74V189.1H1406.77V179.3H1407.79V179.3H1408.82V175.4H1409.84V178.9H1410.87V181.2H1411.89V189.1H1412.92V189.1H1413.94V189.1H1414.97V196.9H1415.99V196.9H1417.02V202.7H1418.04V202.7H1419.07V202.7H1420.09V202.7H1421.12V202.7H1422.14V206.6H1423.17V206.6H1424.19V206.6H1425.22V206.6H1426.24V206.6H1427.27V212.5H1428.29V212.5H1429.32V212.5H1430.34V235.9H1431.36V228.1H1432.39V228.1H1433.41V228.1H1434.44V239.8H1435.46V239.8H1436.49V232.0H1437.51V232.0H1438.54V232.0H1439.56V224.2H1440.59V224.2H1441.61V214.5H1442.64V214.5H1443.66V214.5H1444.69V214.5H1445.71V212.5H1446.74V212.5H1447.76V212.5H1448.79V212.5H1449.81V212.5H1450.84V212.5H1451.86V198.8H1452.89V198.8H1453.91V185.2H1454.94V185.2H1455.96V185.2H1456.99V185.2H1458.01V185.2H1459.04V185.2H1460.06V169.5H1461.09V169.5H1462.11V163.7H1463.14V163.7H1464.16V163.7H1465.19V163.7H1466.21V163.7H1467.23V163.7H1468.26V173.4H1469.28V173.4H1470.31V173.4H1471.33V173.4H1472.36V173.4H1473.38V173.4H1474.41V173.4H1475.43V173.4H1476.46V173.4H1477.48V169.5H1478.51V169.5H1479.53V169.5H1480.56V169.5H1481.58V169.5H1482.61V169.5H1483.63V169.5H1484.66V169.5H1485.68V206.6H1486.71V206.6H1487.73V206.6H1488.76V206.6H1489.78V206.6H1490.81V206.6H1491.83V210.5H1492.86V204.7H1493.88V204.7H1494.91V230.1H1495.93V230.1H1496.96V230.1H1497.98V230.1H1499.01V230.1H1500.03V230.1H1501.05V243.8H1502.08V243.8H1503.10V243.8H1504.13V262.3H1505.15V262.3H1506.18V262.3H1507.20V262.3H1508.23V262.3H1509.25V262.3H1510.28V232.0H1511.30V232.0H1512.33V224.2H1513.35V224.2H1514.38V224.2H1515.40V224.2H1516.43V224.2H1517.45V224.2H1518.48V222.3H1519.50V222.3H1520.53V191.0H1521.55V191.0H1522.58V191.0H1523.60V191.0H1524.63V191.0H1525.65V191.0H1526.68V191.0H1527.70V160.0ZM1565.62,160.0V164.6H1566.65V164.6H1567.67V164.6H1568.69V164.6H1569.72V164.6H1570.74V164.6H1571.77V164.6H1572.79V164.6H1573.82V164.6H1574.84V164.6H1575.87V164.6H1576.89V164.6H1577.92V164.6H1578.94V164.6H1579.97V164.6H1580.99V164.6H1582.02V164.6H1583.04V169.5H1584.07V169.5H1585.09V177.3H1586.12V177.3H1587.14V177.3H1588.17V177.3H1589.19V177.3H1590.22V172.5H1591.24V172.5H1592.27V172.5H1593.29V172.5H1594.32V172.5H1595.34V172.5H1596.37V172.5H1597.39V172.5H1598.42V172.5H1599.44V172.5H1600.47V172.5H1601.49V179.3H1602.52V179.3H1603.54V196.9H1604.56V214.5H1605.59V228.1H1606.61V228.1H1607.64V234.0H1608.66V239.8H1609.69V239.8H1610.71V267.2H1611.74V345.3H1612.76V345.3H1613.79V376.6H1614.81V160.0ZM1625.06,160.0V239.4H1626.09V392.7H1627.11V392.7H1628.14V413.1H1629.16V413.1H1630.19V413.1H1631.21V426.4H1632.24V426.4H1633.26V426.4H1634.29V426.4H1635.31V426.4H1636.34V420.8H1637.36V420.8H1638.38V420.8H1639.41V420.8H1640.43V440.7H1641.46V453.1H1642.48V453.1H1643.51V462.4H1644.53V527.7H1645.56V527.7H1646.58V518.5H1647.61V531.9H1648.63V458.8H1649.66V458.8H1650.68V458.8H1651.71V458.8H1652.73V458.8H1653.76V456.7H1654.78V456.7H1655.81V456.7H1656.83V464.4H1657.86V464.4H1658.88V464.4H1659.91V520.6H1660.93V520.6H1661.96V526.3H1662.98V526.3H1664.01V523.5H1665.03V525.4H1666.06V533.3H1667.08V492.5H1668.11V464.4H1669.13V464.4H1670.16V478.5H1671.18V478.5H1672.20V443.3H1673.23V443.3H1674.25V443.3H1675.28V443.3H1676.30V443.3H1677.33V461.6H1678.35V461.6H1679.38V461.6H1680.40V461.6H1681.43V446.1H1682.45V446.1H1683.48V446.1H1684.50V446.1H1685.53V446.1H1686.55V453.1H1687.58V453.1H1688.60V453.1H1689.63V453.1H1690.65V453.1H1691.68V535.4H1692.70V535.4H1693.73V527.7H1694.75V527.7H1695.78V450.9H1696.80V435.4H1697.83V436.8H1698.85V433.5H1699.88V424.0H1700.90V418.6H1701.93V406.6H1702.95V405.8H1703.98V408.8H1705.00V405.1H1706.03V406.6H1707.05V396.2H1708.07V390.8H1709.10V383.6H1710.12V380.0H1711.15V374.4H1712.17V373.2H1713.20V368.6H1714.22V356.1H1715.25V351.8H1716.27V331.4H1717.30V301.2H1718.32V291.0H1719.35V280.6H1720.37V273.2H1721.40V281.3H1722.42V280.8H1723.45V272.4H1724.47V260.9H1725.50V280.6H1726.52V274.0H1727.55V269.8H1728.57V275.0H1729.60V266.0H1730.62V270.2H1731.65V266.5H1732.67V261.5H1733.70V240.1H1734.72V233.4H1735.75V232.5H1736.77V225.9H1737.80V204.6H1738.82V202.7H1739.85V202.8H1740.87V203.5H1741.89V201.7H1742.92V201.0H1743.94V202.0H1744.97V197.3H1745.99V195.2H1747.02V197.3H1748.04V198.8H1749.07V196.9H1750.09V193.4H1751.12V191.9H1752.14V191.6H1753.17V190.9H1754.19V190.7H1755.22V190.8H1756.24V189.5H1757.27V188.0H1758.29V187.7H1759.32V186.7H1760.34V186.3H1761.37V186.6H1762.39V188.8H1763.42V184.8H1764.44V184.5H1765.47V182.6H1766.49V182.8H1767.52V182.4H1768.54V181.3H1769.57V180.8H1770.59V180.1H1771.62V177.2H1772.64V178.3H1773.67V179.6H1774.69V179.2H1775.71V179.1H1776.74V179.7H1777.76V179.6H1778.79V178.6H1779.81V178.7H1780.84V178.6H1781.86V177.3H1782.89V177.4H1783.91V177.3H1784.94V176.7H1785.96V176.4H1786.99V178.2H1788.01V174.8H1789.04V177.0H1790.06V175.0H1791.09V174.8H1792.11V174.5H1793.14V173.4H1794.16V172.4H1795.19V172.3H1796.21V172.3H1797.24V173.4H1798.26V175.5H1799.29V184.8H1800.31V191.6H1801.34V195.5H1802.36V198.1H1803.39V204.1H1804.41V207.4H1805.44V211.0H1806.46V219.0H1807.49V231.1H1808.51V235.4H1809.53V257.1H1810.56V281.7H1811.58V300.2H1812.61V311.9H1813.63V316.4H1814.66V326.2H1815.68V345.5H1816.71V351.4H1817.73V360.8H1818.76V364.6H1819.78V369.9H1820.81V372.2H1821.83V370.2H1822.86V375.3H1823.88V380.3H1824.91V376.1H1825.93V361.2H1826.96V357.2H1827.98V375.2H1829.01V372.2H1830.03V370.8H1831.06V376.0H1832.08V368.7H1833.11V364.7H1834.13V372.5H1835.16V360.0H1836.18V340.3H1837.21V327.0H1838.23V320.6H1839.26V325.8H1840.28V330.0H1841.31V333.2H1842.33V338.8H1843.36V343.8H1844.38V352.9H1845.40V355.3H1846.43V365.1H1847.45V367.4H1848.48V373.1H1849.50V360.2H1850.53V372.4H1851.55V354.9H1852.58V355.7H1853.60V360.5H1854.63V369.9H1855.65V379.5H1856.68V366.1H1857.70V358.3H1858.73V365.7H1859.75V366.2H1860.78V371.2H1861.80V377.4H1862.83V398.0H1863.85V407.5H1864.88V401.5H1865.90V412.0H1866.93V417.6H1867.95V426.7H1868.98V429.9H1870.00V430.2H1871.03V439.5H1872.05V459.0H1873.08V461.3H1874.10V481.4H1875.13V484.6H1876.15V491.4H1877.18V496.0H1878.20V160.0Z" fill="url(#st)" shape-rendering="crispEdges"/>
<line x1="152" x2="1888" y1="480.5" y2="480.5" stroke="#e0473f" stroke-width="1.6"/>
<circle cx="301.8" cy="475.6" r="38" fill="#4450d2" fill-opacity="0.76"/>
<circle cx="807.6" cy="475.7" r="38" fill="#4450d2" fill-opacity="0.76"/>
<circle cx="1040.4" cy="481.2" r="38" fill="#4450d2" fill-opacity="0.76"/>
<circle cx="1673.7" cy="477.0" r="38" fill="#4450d2" fill-opacity="0.76"/>
<line x1="148.4" x2="148.4" y1="159" y2="1048.5" stroke="#101012" stroke-width="2.6"/>
<line x1="1887.8" x2="1887.8" y1="159" y2="1047.5" stroke="#e06464" stroke-width="2"/>
<text x="82.6" y="310.5" font-size="25" fill="#101012" textLength="47" lengthAdjust="spacingAndGlyphs">64K</text>
<text x="82.6" y="497.5" font-size="25" fill="#101012" textLength="47" lengthAdjust="spacingAndGlyphs">60K</text>
<text x="82.6" y="683.5" font-size="25" fill="#101012" textLength="47" lengthAdjust="spacingAndGlyphs">56K</text>
<text x="82.6" y="870" font-size="25" fill="#101012" textLength="47" lengthAdjust="spacingAndGlyphs">52K</text>
<text x="82.6" y="1057" font-size="25" fill="#101012" textLength="47" lengthAdjust="spacingAndGlyphs">48K</text>
<text x="1908" y="168" font-size="25.3" fill="#101012">0</text>
<text x="1908" y="366.5" font-size="25.3" fill="#101012" textLength="56.5">-15K</text>
<text x="1908" y="566" font-size="25.3" fill="#101012" textLength="56.5">-30K</text>
<text x="1908" y="765" font-size="25.3" fill="#101012" textLength="56.5">-45K</text>
<text x="1908" y="964" font-size="25.3" fill="#101012" textLength="56.5">-60K</text>
<text transform="translate(69,605) rotate(-90)" text-anchor="middle" font-size="24.5" fill="#101012">Price ($)</text>
<text transform="translate(1978,603) rotate(90)" text-anchor="middle" font-size="24.5" fill="#101012">24H P&amp;L (B)</text>
<rect x="1888" y="454.2" width="93" height="45" fill="#dd2a2a"/>
<text x="1895.8" y="486.6" font-size="24.8" fill="#ffffff" textLength="71.4">-24.1K</text>
<line x1="1548" y1="692" x2="1848" y2="509.5" stroke="#c2c2c0" stroke-width="1.9"/>
<circle cx="1548" cy="692" r="6.8" fill="#c4c4c4"/>
<path d="M1858,503.5 L1843.2,504.6 L1850.2,516.2 Z" fill="#c4c4c4"/>
<text x="1784.2" y="772" text-anchor="end" font-size="52" font-weight="bold" fill="#2335c5">24.1K BTC sold at a loss</text>
<text x="1784.2" y="832.2" text-anchor="end" font-size="52" font-weight="bold" fill="#2335c5">in the last 24 hours</text>
<text x="1019" y="72.5" text-anchor="middle" font-size="39.75" font-weight="bold" fill="#121214">BTC: Short-Term Holder P&amp;L to Exchanges Sum 24H</text>
<line x1="475" x2="505.3" y1="117.8" y2="117.8" stroke="#101012" stroke-width="2.6"/>
<text x="511.5" y="124" font-size="24.4" fill="#1a1a1c" textLength="185.5" lengthAdjust="spacingAndGlyphs">BTC Price [USD]</text>
<line x1="724" x2="754" y1="117.8" y2="117.8" stroke="#7c7c88" stroke-width="2.6"/>
<text x="762" y="124" font-size="24.8" fill="#7c7c88">STH Profit to Exchanges Sum 24H</text>
<line x1="762" x2="1144" y1="115.5" y2="115.5" stroke="#7c7c88" stroke-width="1.8"/>
<circle cx="1182" cy="113" r="12.6" fill="#e9605e"/>
<text x="1203.8" y="124" font-size="24.6" fill="#1a1a1c" textLength="377" lengthAdjust="spacingAndGlyphs">STH Loss to Exchanges Sum 24H</text>
<text x="822" y="1120.5" font-size="20.9" fill="#6f727b">Daily on-chain analysis: https://x.com/AxelAdlerJr</text>
<line x1="1045" x2="1278.6" y1="1123.4" y2="1123.4" stroke="#6f727b" stroke-width="1.2"/>
<text x="1741" y="1123.2" font-size="18.2" fill="#6f727b" textLength="257.6" lengthAdjust="spacingAndGlyphs">© CryptoQuant. All rights reserved</text>
<g><path d="M765.6,1103.6 L778.2,1103.6 L783,1109.3 L771.3,1124 L759.2,1109.9 Z" fill="#4a9df3"/><path d="M765.6,1103.6 L770,1103.6 L767.5,1110 L771.3,1124 L759.2,1109.9 Z" fill="#86d9fa"/><path d="M767.5,1110 L776.5,1109.6 L771.3,1124 Z" fill="#55b6f7"/><path d="M759.2,1109.9 L771.3,1124 L783,1109.3" fill="none" stroke="#3c8fd0" stroke-width="0.8"/></g>
<g fill="#f8bd2f"><path d="M788.3,1113.5 Q788.2,1111.6 789.6,1111.8 L790,1109.3 Q790.8,1108.2 791.6,1109.2 L792.2,1107.4 Q793.2,1106.6 794,1107.6 L794.6,1109.6 Q795.6,1109.2 796,1110.4 L796.2,1117.5 L799,1115 Q800.2,1114.6 800,1116 L796.6,1121 L796.2,1125.6 L789.8,1125.6 L789.6,1121.5 Q788.2,1118 788.3,1113.5 Z"/><path d="M813.9,1113.5 Q814,1111.6 812.6,1111.8 L812.2,1109.3 Q811.4,1108.2 810.6,1109.2 L810,1107.4 Q809,1106.6 808.2,1107.6 L807.6,1109.6 Q806.6,1109.2 806.2,1110.4 L806,1117.5 L803.2,1115 Q802,1114.6 802.2,1116 L805.6,1121 L806,1125.6 L812.4,1125.6 L812.6,1121.5 Q814,1118 813.9,1113.5 Z"/></g>
<g fill="#4a4a3a"><path d="M792.2,1104.6 L794.2,1103 L794.6,1105.6 Z"/><path d="M797.4,1102.4 L799,1102.4 L798.6,1105 Z"/><path d="M801.8,1102.4 L803.4,1102.4 L802.4,1105 Z"/><path d="M806.4,1105.6 L807.2,1103 L809,1104.6 Z"/></g>
</svg>
</body></html>
